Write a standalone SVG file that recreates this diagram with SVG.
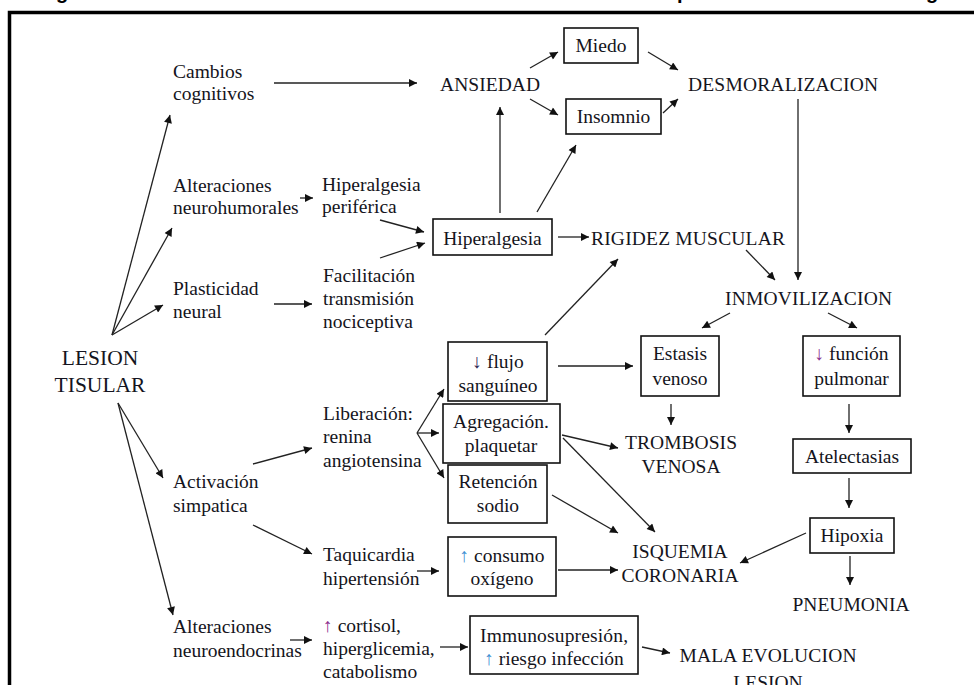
<svg xmlns="http://www.w3.org/2000/svg" width="974" height="685" viewBox="0 0 974 685">
<style>
text{font-family:"Liberation Serif","Times New Roman",serif;font-size:19.5px;fill:#141420}
.m{text-anchor:middle}
.box{fill:#fff;stroke:#111;stroke-width:1.6}
.ln{stroke:#222;stroke-width:1.3;fill:none;marker-end:url(#ah)}
.frame{stroke:#000;stroke-width:3.5;fill:none}
.t{font-family:"Liberation Sans",Arial,sans-serif;font-weight:bold;font-size:20px;fill:#000}
.pu{fill:#8a2e8c}
.bl{fill:#3f8fd2}
.dk{fill:#2e2650}
</style>
<defs>
<marker id="ah" viewBox="0 0 10 10" refX="10" refY="5" markerWidth="11" markerHeight="8" markerUnits="userSpaceOnUse" orient="auto">
<path d="M0,0 L10,5 L0,10 z" fill="#111"/>
</marker>
</defs>
<rect width="974" height="685" fill="#fff"/>
<g id="title-fragments">
<text class="t" x="56" y="-1">g</text>
<text class="t" x="677" y="-1">p</text>
<text class="t" x="926" y="-1">g</text>
</g>
<path class="frame" d="M9.5,685 V12.5 H974"/>

<g id="connectors">
<line class="ln" x1="112" y1="335" x2="170" y2="115"/>
<line class="ln" x1="112" y1="335" x2="172" y2="228"/>
<line class="ln" x1="112" y1="335" x2="163" y2="305"/>
<line class="ln" x1="118" y1="403" x2="163" y2="478"/>
<line class="ln" x1="118" y1="403" x2="173" y2="615"/>
<line class="ln" x1="274" y1="83" x2="417" y2="83"/>
<line class="ln" x1="300" y1="198" x2="313" y2="198"/>
<line class="ln" x1="274" y1="304" x2="312" y2="304"/>
<line class="ln" x1="253" y1="464" x2="312" y2="448"/>
<line class="ln" x1="253" y1="525" x2="312" y2="554"/>
<line class="ln" x1="290" y1="640" x2="312" y2="640"/>
<line class="ln" x1="530" y1="68" x2="558" y2="52"/>
<line class="ln" x1="530" y1="99" x2="558" y2="115"/>
<line class="ln" x1="648" y1="52" x2="678" y2="70"/>
<line class="ln" x1="663" y1="113" x2="678" y2="99"/>
<line class="ln" x1="798" y1="99" x2="798" y2="280"/>
<line class="ln" x1="380" y1="220" x2="424" y2="232"/>
<line class="ln" x1="380" y1="258" x2="425" y2="243"/>
<line class="ln" x1="500" y1="213" x2="500" y2="107"/>
<line class="ln" x1="537" y1="212" x2="576" y2="145"/>
<line class="ln" x1="558" y1="237" x2="589" y2="237"/>
<line class="ln" x1="746" y1="250" x2="775" y2="280"/>
<line class="ln" x1="730" y1="313" x2="702" y2="328"/>
<line class="ln" x1="828" y1="313" x2="857" y2="328"/>
<line class="ln" x1="671" y1="404" x2="671" y2="425"/>
<line class="ln" x1="849" y1="404" x2="849" y2="433"/>
<line class="ln" x1="849" y1="478" x2="849" y2="508"/>
<line class="ln" x1="806" y1="533" x2="740" y2="563"/>
<line class="ln" x1="850" y1="556" x2="850" y2="585"/>
<line class="ln" x1="545" y1="335" x2="618" y2="259"/>
<line class="ln" x1="558" y1="366" x2="633" y2="366"/>
<line class="ln" x1="562" y1="435" x2="618" y2="448"/>
<line class="ln" x1="563" y1="438" x2="655" y2="532"/>
<line class="ln" x1="552" y1="495" x2="618" y2="533"/>
<line class="ln" x1="417" y1="433" x2="444" y2="389"/>
<line class="ln" x1="417" y1="433" x2="439" y2="433"/>
<line class="ln" x1="417" y1="433" x2="444" y2="478"/>
<line class="ln" x1="417" y1="571" x2="439" y2="571"/>
<line class="ln" x1="558" y1="570" x2="618" y2="570"/>
<line class="ln" x1="440" y1="647" x2="468" y2="647"/>
<line class="ln" x1="642" y1="647" x2="670" y2="653"/>
</g>

<g id="lesion-tisular">
<text class="m" x="100" y="365" style="font-size:21.5px">LESION</text>
<text class="m" x="100" y="392" style="font-size:21.5px">TISULAR</text>
</g>
<g id="cambios-cognitivos">
<text x="173" y="78">Cambios</text>
<text x="173" y="100">cognitivos</text>
</g>
<g id="alteraciones-neurohumorales">
<text x="173" y="192">Alteraciones</text>
<text x="173" y="214">neurohumorales</text>
</g>
<g id="plasticidad-neural">
<text x="173" y="295">Plasticidad</text>
<text x="173" y="318">neural</text>
</g>
<g id="activacion-simpatica">
<text x="173" y="488">Activación</text>
<text x="173" y="512">simpatica</text>
</g>
<g id="alteraciones-neuroendocrinas">
<text x="173" y="633">Alteraciones</text>
<text x="173" y="657">neuroendocrinas</text>
</g>
<g id="hiperalgesia-periferica">
<text x="322" y="191">Hiperalgesia</text>
<text x="322" y="213">periférica</text>
</g>
<g id="facilitacion">
<text x="323" y="282">Facilitación</text>
<text x="323" y="305">transmisión</text>
<text x="323" y="328">nociceptiva</text>
</g>
<g id="liberacion">
<text x="323" y="420">Liberación:</text>
<text x="323" y="443">renina</text>
<text x="323" y="467">angiotensina</text>
</g>
<g id="taquicardia">
<text x="323" y="561">Taquicardia</text>
<text x="323" y="585">hipertensión</text>
</g>
<g id="cortisol">
<text x="323" y="632"><tspan class="pu">↑</tspan> cortisol,</text>
<text x="323" y="655">hiperglicemia,</text>
<text x="323" y="678">catabolismo</text>
</g>
<g id="ansiedad">
<text x="440" y="91" textLength="100">ANSIEDAD</text>
</g>
<g id="miedo">
<rect class="box" x="564" y="28" width="74" height="35"/>
<text class="m" x="601" y="52">Miedo</text>
</g>
<g id="insomnio">
<rect class="box" x="566" y="99" width="95" height="35"/>
<text class="m" x="613.5" y="123">Insomnio</text>
</g>
<g id="desmoralizacion">
<text x="688" y="91" textLength="190">DESMORALIZACION</text>
</g>
<g id="hiperalgesia">
<rect class="box" x="433" y="219" width="119" height="36"/>
<text class="m" x="492.5" y="245">Hiperalgesia</text>
</g>
<g id="rigidez-muscular">
<text x="591" y="245" textLength="194">RIGIDEZ MUSCULAR</text>
</g>
<g id="inmovilizacion">
<text x="725" y="305" textLength="167">INMOVILIZACION</text>
</g>
<g id="flujo-sanguineo">
<rect class="box" x="448" y="342" width="99" height="59"/>
<text class="m" x="498" y="368"><tspan class="dk">↓</tspan> flujo</text>
<text class="m" x="498" y="392">sanguíneo</text>
</g>
<g id="agregacion-plaquetar">
<rect class="box" x="443" y="404" width="117" height="59"/>
<text class="m" x="501" y="428">Agregación.</text>
<text class="m" x="501" y="452">plaquetar</text>
</g>
<g id="retencion-sodio">
<rect class="box" x="448" y="465" width="99" height="58"/>
<text class="m" x="498" y="488">Retención</text>
<text class="m" x="498" y="512">sodio</text>
</g>
<g id="consumo-oxigeno">
<rect class="box" x="448" y="537" width="108" height="59"/>
<text class="m" x="502" y="562"><tspan class="bl">↑</tspan> consumo</text>
<text class="m" x="502" y="585">oxígeno</text>
</g>
<g id="immunosupresion">
<rect class="box" x="470" y="616" width="168" height="58"/>
<text class="m" x="554" y="642" textLength="148">Immunosupresión,</text>
<text class="m" x="554" y="665"><tspan class="bl">↑</tspan> riesgo infección</text>
</g>
<g id="estasis-venoso">
<rect class="box" x="641" y="336" width="78" height="60"/>
<text class="m" x="680" y="360">Estasis</text>
<text class="m" x="680" y="385">venoso</text>
</g>
<g id="funcion-pulmonar">
<rect class="box" x="803" y="336" width="97" height="60"/>
<text class="m" x="851.5" y="360"><tspan class="pu">↓</tspan> función</text>
<text class="m" x="851.5" y="385">pulmonar</text>
</g>
<g id="trombosis-venosa">
<text class="m" x="681" y="449" textLength="112">TROMBOSIS</text>
<text class="m" x="681" y="473">VENOSA</text>
</g>
<g id="atelectasias">
<rect class="box" x="793" y="439" width="118" height="34"/>
<text class="m" x="852" y="463">Atelectasias</text>
</g>
<g id="hipoxia">
<rect class="box" x="810" y="518" width="84" height="35"/>
<text class="m" x="852" y="542">Hipoxia</text>
</g>
<g id="isquemia-coronaria">
<text class="m" x="680" y="558">ISQUEMIA</text>
<text class="m" x="680" y="582" textLength="117">CORONARIA</text>
</g>
<g id="pneumonia">
<text class="m" x="851" y="611" textLength="117">PNEUMONIA</text>
</g>
<g id="mala-evolucion">
<text class="m" x="768" y="662" textLength="177">MALA EVOLUCION</text>
<text class="m" x="768" y="689">LESION</text>
</g>
</svg>
